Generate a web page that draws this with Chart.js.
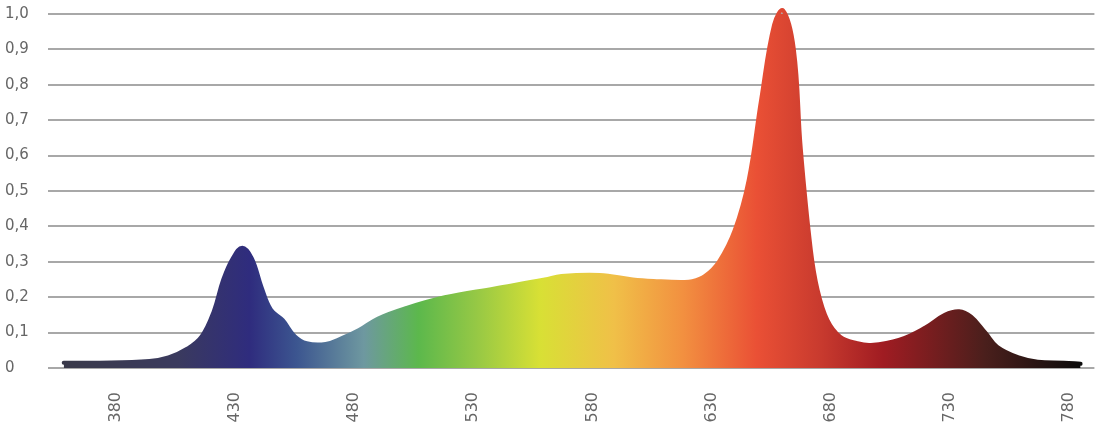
<!DOCTYPE html>
<html>
<head>
<meta charset="utf-8">
<script src="https://cdn.jsdelivr.net/npm/chart.js@4.4.1/dist/chart.umd.min.js"></script>
<style>
    html, body { margin: 0; padding: 0; background: #fff; }
    #wrap { width: 1112px; height: 437px; position: relative; }
</style>
</head>
<body>
<div id="wrap"><canvas id="spectrumChart"></canvas></div>
<script>
// spectrum (nm / relative intensity)
const wavelengths = [358, 373, 394, 402, 410, 416, 421, 425, 429, 433, 437, 441, 445, 450, 455, 460,
    468, 475, 482, 490, 502, 518, 539, 560, 567, 583, 597, 608, 617, 622, 627.3, 633.1, 639.8,
    645.6, 650.9, 656.3, 660.1, 664.6, 667.5, 671.7, 674.6,
    678.7, 684.1, 691.2, 697, 709, 720, 728, 734, 739, 745, 750, 759, 767, 778, 785];
const intensity = [0.015, 0.015, 0.02, 0.03, 0.055, 0.09, 0.16, 0.25, 0.31, 0.34, 0.31, 0.23, 0.165, 0.135, 0.09, 0.07,
    0.068, 0.085, 0.107, 0.14, 0.17, 0.2, 0.225, 0.25, 0.26, 0.263, 0.25, 0.245, 0.243, 0.245, 0.26, 0.3, 0.39,
    0.53, 0.76, 0.97, 1.01, 0.9, 0.62, 0.335, 0.22,
    0.135, 0.088, 0.07, 0.065, 0.08, 0.115, 0.15, 0.16, 0.145, 0.1, 0.06, 0.03, 0.018, 0.015, 0.012];
const xTicks = [380, 430, 480, 530, 580, 630, 680, 730, 780];
const yTicks = [0, 0.1, 0.2, 0.3, 0.4, 0.5, 0.6, 0.7, 0.8, 0.9, 1.0];

// colour of the fill along the wavelength axis
const spectrumStops = [
    [358, '#3a3a4a'], [406, '#3a3a5e'], [436, '#2f2c7e'], [456, '#3c5690'],
    [484, '#6e98a0'], [507, '#5cb84c'], [531, '#95c845'], [558, '#d8e035'],
    [589, '#f0c048'], [618, '#f29040'], [649, '#ea5035'], [676, '#c83a2e'],
    [702, '#a01c22'], [745, '#4a1f1c'], [785, '#0c0c0c']
];

let gradientCache = null;
function spectrumGradient(context) {
    const chart = context.chart;
    const area = chart.chartArea;
    if (!area) return '#888';
    if (gradientCache) return gradientCache;
    const x = chart.scales.x;
    const first = spectrumStops[0][0];
    const last = spectrumStops[spectrumStops.length - 1][0];
    const x0 = x.getPixelForValue(first);
    const x1 = x.getPixelForValue(last);
    const g = chart.ctx.createLinearGradient(x0, 0, x1, 0);
    spectrumStops.forEach(function (s) {
        g.addColorStop((s[0] - first) / (last - first), s[1]);
    });
    gradientCache = g;
    return g;
}

function createChart() {
    const points = wavelengths.map(function (w, i) {
        return { x: w, y: intensity[i] };
    });

    const data = {
        datasets: [{
            data: points,
            fill: 'origin',
            backgroundColor: spectrumGradient,
            borderColor: spectrumGradient,
            borderWidth: 4,
            borderCapStyle: 'round',
            borderJoinStyle: 'round',
            tension: 0.4,
            pointRadius: 0,
            clip: false
        }]
    };

    const options = {
        responsive: true,
        maintainAspectRatio: false,
        animation: false,
        layout: {
            padding: { left: 5, right: 5, top: 14, bottom: 0 }
        },
        plugins: {
            legend: { display: false },
            tooltip: { enabled: false }
        },
        scales: {
            x: {
                type: 'linear',
                min: 351.4,
                max: 790.8,
                grid: { display: false, drawTicks: false },
                border: { display: false },
                afterBuildTicks: function (scale) {
                    scale.ticks = xTicks.map(function (v) { return { value: v }; });
                },
                afterFit: function (scale) { scale.height = 69; },
                ticks: {
                    autoSkip: false,
                    minRotation: 90,
                    maxRotation: 90,
                    padding: 24,
                    color: '#666',
                    font: { family: 'DejaVu Sans', size: 16 },
                    callback: function (v) { return String(v); }
                }
            },
            y: {
                min: 0,
                max: 1,
                grid: { color: '#a8a8a8', lineWidth: 2, drawTicks: false },
                border: { display: false },
                afterBuildTicks: function (scale) {
                    scale.ticks = yTicks.map(function (v) { return { value: v }; });
                },
                afterFit: function (scale) { scale.width = 43; },
                ticks: {
                    crossAlign: 'far',
                    color: '#666',
                    font: { family: 'DejaVu Sans', size: 15 },
                    callback: function (v) {
                        return v === 0 ? '0' : Number(v).toFixed(1).replace('.', ',');
                    }
                }
            }
        }
    };

    const ctx = document.getElementById('spectrumChart').getContext('2d');
    new Chart(ctx, {
        type: 'line',
        data: data,
        options: options
    });
}

document.addEventListener('DOMContentLoaded', function () {
    createChart();
});
</script>
</body>
</html>
